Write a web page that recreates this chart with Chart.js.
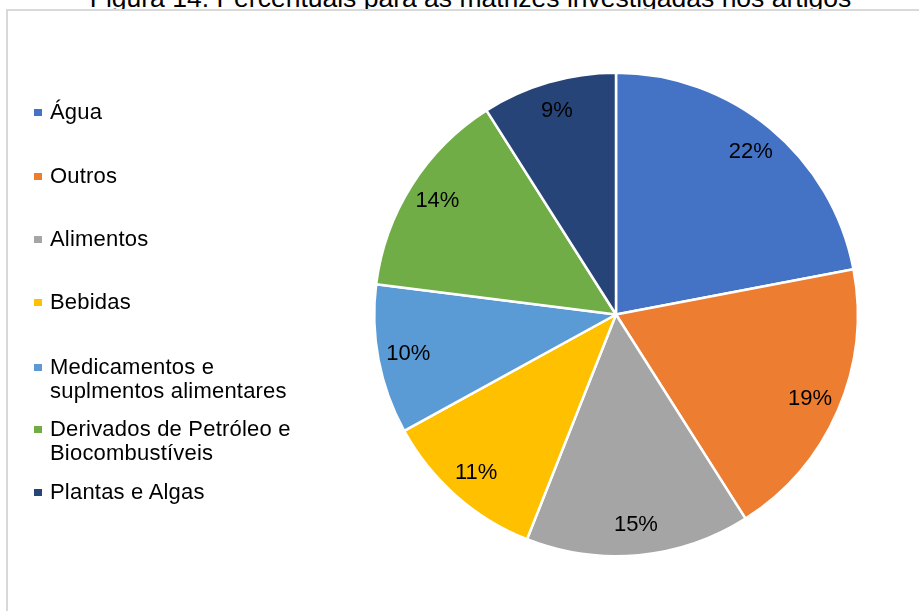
<!DOCTYPE html>
<html lang="pt">
<head>
<meta charset="utf-8">
<script src="https://cdn.jsdelivr.net/npm/chart.js@4.4.1/dist/chart.umd.min.js"></script>
<style>
  html, body { margin: 0; padding: 0; background: #ffffff; overflow: hidden; }
  body { width: 919px; height: 611px; position: relative; font-family: "Liberation Sans", Arial, sans-serif; }
  #title {
    position: absolute; left: 0; width: 941px; top: -17px; text-align: center;
    font-size: 26.5px; line-height: 30px; color: #000; white-space: nowrap;
  }
  #frame {
    position: absolute; left: 6px; top: 9px; width: 960px; height: 660px;
    border: 2px solid #d9d9d9; box-sizing: border-box; background: #fff;
  }
  #wrap { position: absolute; left: 0; top: 0; width: 919px; height: 611px; }
  #legend { position: absolute; left: 0; top: 0; width: 330px; height: 611px; }
  .item { position: absolute; left: 34px; font-size: 22px; line-height: 24px; letter-spacing: 0.2px; color: #000; }
  .item .box { position: absolute; left: 0; top: 9px; width: 8px; height: 7px; }
  .item .txt { position: absolute; left: 16px; top: 0; white-space: nowrap; }
</style>
</head>
<body>
<div id="title">Figura 14. Percentuais para as matrizes investigadas nos artigos</div>
<div id="frame"></div>
<div id="wrap"><canvas id="pie" width="919" height="611"></canvas></div>
<div id="legend"></div>
<script>
// Categories and shares (%) of the matrices
const categories = [
  'Água',
  'Outros',
  'Alimentos',
  'Bebidas',
  ['Medicamentos e', 'suplmentos alimentares'],
  ['Derivados de Petróleo e', 'Biocombustíveis'],
  'Plantas e Algas'
];
const shares = [22, 19, 15, 11, 10, 14, 9];
const sliceColors = ['#4472C4', '#ED7D31', '#A5A5A5', '#FFC000', '#5B9BD5', '#70AD47', '#264478'];

// Legend row tops (px)
const legendTops = [100, 164, 227, 290, 355, 417, 480];

const legendEl = document.getElementById('legend');
categories.forEach((cat, i) => {
  const lines = Array.isArray(cat) ? cat : [cat];
  const item = document.createElement('div');
  item.className = 'item';
  item.style.top = legendTops[i] + 'px';
  const box = document.createElement('div');
  box.className = 'box';
  box.style.background = sliceColors[i];
  const txt = document.createElement('div');
  txt.className = 'txt';
  txt.innerHTML = lines.join('<br>');
  item.appendChild(box);
  item.appendChild(txt);
  legendEl.appendChild(item);
});

// Percentage labels inside each slice
const sliceLabels = {
  id: 'sliceLabels',
  afterDatasetsDraw(chart) {
    const ctx = chart.ctx;
    const meta = chart.getDatasetMeta(0);
    ctx.save();
    ctx.font = '22px "Liberation Sans", Arial, sans-serif';
    ctx.fillStyle = '#000';
    ctx.textAlign = 'center';
    ctx.textBaseline = 'middle';
    meta.data.forEach((arc, i) => {
      const p = arc.getProps(['x', 'y', 'startAngle', 'endAngle', 'outerRadius'], true);
      const mid = (p.startAngle + p.endAngle) / 2;
      const r = p.outerRadius * 0.875;
      ctx.fillText(shares[i] + '%', p.x + Math.cos(mid) * r, p.y + Math.sin(mid) * r);
    });
    ctx.restore();
  }
};

new Chart(document.getElementById('pie'), {
  type: 'pie',
  data: {
    labels: categories.map(c => Array.isArray(c) ? c.join(' ') : c),
    datasets: [{
      data: shares,
      backgroundColor: sliceColors,
      borderColor: '#ffffff',
      borderWidth: 2.5
    }]
  },
  options: {
    responsive: false,
    animation: false,
    events: [],
    layout: { padding: { left: 373, right: 60, top: 71.5, bottom: 53.5 } },
    plugins: {
      legend: { display: false },
      tooltip: { enabled: false },
      title: { display: false }
    }
  },
  plugins: [sliceLabels]
});
</script>
</body>
</html>
